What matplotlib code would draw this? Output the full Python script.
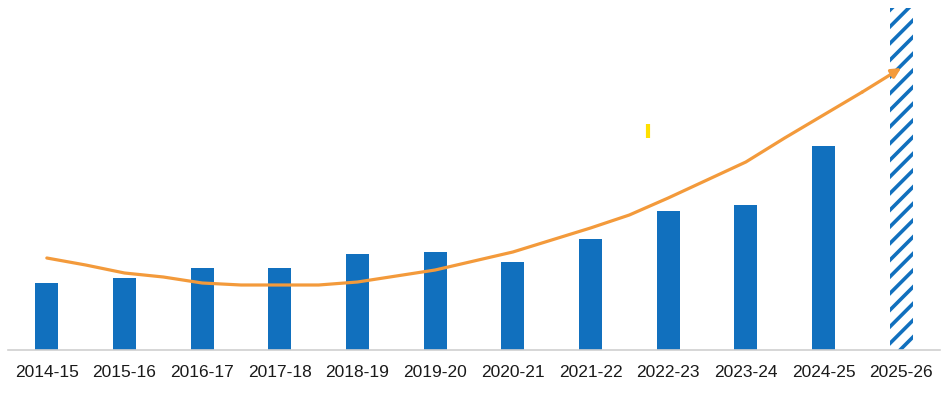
import matplotlib
matplotlib.use("Agg")
import matplotlib.pyplot as plt
import numpy as np

categories = ["2014-15", "2015-16", "2016-17", "2017-18", "2018-19", "2019-20",
              "2020-21", "2021-22", "2022-23", "2023-24", "2024-25", "2025-26"]
values = [67, 72, 82, 82, 96, 98, 88, 111, 139, 145, 204]
projected_value = 342
trend_pos = [0, 0.5, 1, 1.5, 2, 2.5, 3, 3.5, 4, 4.5, 5, 5.5, 6, 6.5, 7, 7.5,
             8, 8.5, 9, 9.5, 10, 10.5, 11]
trend = [92, 85, 77, 73, 67, 65, 65, 65, 68, 74, 80, 89, 98, 110, 122, 135,
         152, 170, 188, 212, 235, 258, 282]
marker_x = 7.74
marker_y = [212, 226]

bar_color = "#1170BE"
orange = "#F39A3B"

plt.rcParams['font.family'] = ['Liberation Sans', 'DejaVu Sans']
plt.rcParams['hatch.linewidth'] = 2.6
plt.rcParams['hatch.color'] = bar_color

fig = plt.figure(figsize=(9.46, 3.95), dpi=100)
ax = fig.add_axes([8/946, 45/395, 932/946, 350/395])

x = np.arange(len(categories))
ax.bar(x[:-1], values, width=0.3, color=bar_color, zorder=2)
ax.bar(x[-1], projected_value, width=0.3, facecolor="white", edgecolor=bar_color,
       linewidth=0, hatch="//", zorder=2)

ax.plot(trend_pos[:-1], trend[:-1], color=orange, lw=2.3, zorder=3,
        solid_capstyle="round", solid_joinstyle="round")
ax.annotate("", xy=(trend_pos[-1], trend[-1]), xytext=(trend_pos[-2], trend[-2]),
            arrowprops=dict(arrowstyle="-|>", color=orange, lw=2.3,
                            mutation_scale=14, shrinkA=0, shrinkB=0), zorder=3)

ax.plot([marker_x, marker_x], marker_y, color="#FFE000", lw=3, solid_capstyle="butt", zorder=3)

ax.set_xlim(-0.5, len(categories) - 0.5)
ax.set_ylim(0, 350)
ax.set_xticks(x)
ax.set_xticklabels(categories, fontsize=12.5, color="#1a1a1a")
ax.tick_params(axis="x", length=0, pad=10.5)
ax.set_yticks([])
for s in ["top", "right", "left"]:
    ax.spines[s].set_visible(False)
ax.spines["bottom"].set_color("#d0d0d0")
ax.spines["bottom"].set_linewidth(1.2)

fig.savefig("out.png", dpi=100)
